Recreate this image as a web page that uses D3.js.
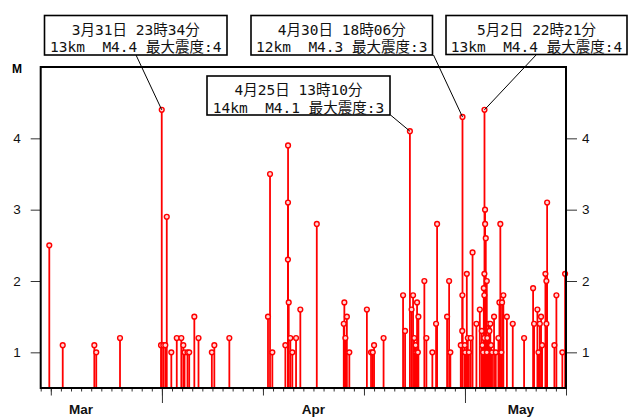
<!DOCTYPE html>
<html>
<head>
<meta charset="utf-8">
<script src="https://cdn.jsdelivr.net/npm/d3@7"></script>
<style>
  body { margin: 0; background: #fff; }
  .tick line { stroke: #333; }
  .ylab { font-family: "Liberation Sans", Arial, sans-serif; font-size: 13.5px; fill: #111; }
  .note { font-family: "DejaVu Sans Mono", "Noto Sans CJK JP", monospace; font-size: 14.5px; fill: #111; }
</style>
</head>
<body>
<div class="visualization"></div>
<script>
const canvaswidth = 628;
const canvasheight = 417;

// event times (JST) and magnitudes
var eqTimes = [
  "2023-03-20 20:25", "2023-03-22 04:20", "2023-03-25 07:25", "2023-03-25 12:00", "2023-03-27 20:25",
  "2023-03-31 21:50", "2023-03-31 23:34", "2023-04-01 03:20", "2023-04-01 08:00", "2023-04-01 11:30",
  "2023-04-01 22:20", "2023-04-02 11:15", "2023-04-02 22:05", "2023-04-03 02:50", "2023-04-03 05:45",
  "2023-04-03 12:45", "2023-04-03 16:50", "2023-04-04 05:00", "2023-04-04 14:55", "2023-04-05 22:35",
  "2023-04-06 04:30", "2023-04-07 16:10", "2023-04-11 12:00", "2023-04-11 16:50", "2023-04-11 22:20",
  "2023-04-13 05:15", "2023-04-13 11:40", "2023-04-13 11:30", "2023-04-13 11:20", "2023-04-13 13:15",
  "2023-04-13 17:05", "2023-04-13 21:50", "2023-04-14 06:40", "2023-04-14 16:50", "2023-04-16 07:55",
  "2023-04-19 00:00", "2023-04-19 01:25", "2023-04-19 03:50", "2023-04-19 07:25", "2023-04-19 13:15",
  "2023-04-21 06:55", "2023-04-21 16:50", "2023-04-21 20:55", "2023-04-22 00:00", "2023-04-22 22:35",
  "2023-04-24 20:55", "2023-04-25 01:40", "2023-04-25 13:10", "2023-04-25 17:05", "2023-04-25 20:40",
  "2023-04-25 23:30", "2023-04-26 02:40", "2023-04-26 04:30", "2023-04-26 06:10", "2023-04-26 08:05",
  "2023-04-26 09:20", "2023-04-26 23:30", "2023-04-27 04:20", "2023-04-27 18:30", "2023-04-28 03:20",
  "2023-04-28 05:45", "2023-04-29 05:30", "2023-04-29 10:20", "2023-04-29 13:15", "2023-04-30 14:00",
  "2023-04-30 17:50", "2023-04-30 17:30", "2023-04-30 18:06", "2023-04-30 23:35", "2023-05-01 00:15",
  "2023-05-01 04:20", "2023-05-01 06:45", "2023-05-01 09:20", "2023-05-01 13:40", "2023-05-01 18:00",
  "2023-05-02 03:10", "2023-05-02 11:15", "2023-05-02 15:50", "2023-05-02 17:15", "2023-05-02 19:00",
  "2023-05-02 20:40", "2023-05-02 22:05", "2023-05-02 22:00", "2023-05-02 21:50", "2023-05-02 22:21",
  "2023-05-02 23:50", "2023-05-02 23:40", "2023-05-03 01:25", "2023-05-03 03:50", "2023-05-03 03:55",
  "2023-05-03 05:00", "2023-05-03 08:40", "2023-05-03 10:05", "2023-05-03 12:15", "2023-05-03 13:55",
  "2023-05-03 16:20", "2023-05-03 21:05", "2023-05-04 01:10", "2023-05-04 07:25", "2023-05-04 09:50",
  "2023-05-04 12:00", "2023-05-04 14:25", "2023-05-04 16:05", "2023-05-04 19:10", "2023-05-05 03:35",
  "2023-05-05 17:30", "2023-05-06 20:25", "2023-05-07 17:50", "2023-05-07 20:10", "2023-05-08 04:05",
  "2023-05-08 06:30", "2023-05-08 09:50", "2023-05-08 12:45", "2023-05-08 15:10", "2023-05-08 23:05",
  "2023-05-09 01:25", "2023-05-09 01:30", "2023-05-09 03:10", "2023-05-09 20:25", "2023-05-10 01:10",
  "2023-05-10 15:20", "2023-05-10 21:50"
];
var eqMags = [
  2.5, 1.1, 1.1, 1.0, 1.2,
  1.1, 4.4, 1.1, 1.1, 2.9,
  1.0, 1.2, 1.2, 1.1, 1.0,
  1.0, 1.0, 1.5, 1.2, 1.0,
  1.1, 1.2, 1.5, 3.5, 1.0,
  1.1, 3.9, 3.1, 2.3, 1.7,
  1.2, 1.0, 1.2, 1.6, 2.8,
  1.4, 1.7, 1.2, 1.5, 1.0,
  1.6, 1.0, 1.0, 1.1, 1.2,
  1.8, 1.3, 4.1, 1.6, 1.8,
  1.2, 1.1, 1.0, 1.7, 1.0,
  1.5, 2.0, 1.2, 1.0, 1.4,
  2.8, 1.5, 2.0, 1.0, 1.1,
  1.8, 1.3, 4.3, 1.1, 1.0,
  2.1, 1.2, 1.0, 1.2, 2.4,
  1.4, 1.6, 1.3, 1.1, 1.0,
  1.9, 2.1, 1.8, 1.2, 4.4,
  2.8, 3.0, 2.6, 2.0, 1.0,
  1.2, 1.4, 1.3, 1.4, 1.1,
  1.0, 1.5, 1.0, 1.2, 1.7,
  2.8, 1.0, 1.7, 1.8, 1.5,
  1.4, 1.2, 1.9, 1.4, 1.6,
  1.0, 1.4, 1.5, 1.1, 2.1,
  2.0, 1.4, 3.1, 1.1, 1.8,
  1.0, 2.1
];

var yTicks = [1, 2, 3, 4];
var monthLabels = ["Mar", "Apr", "May"];
var monthLabelTimes = ["2023-03-24 00:00", "2023-04-16 00:00", "2023-05-06 13:00"];

// annotated events
var noteTimes = ["2023-03-31 23:34", "2023-04-30 18:06", "2023-05-02 22:21", "2023-04-25 13:10"];
var noteMags = [4.4, 4.3, 4.4, 4.1];
var noteTitles = ["3月31日 23時34分", "4月30日 18時06分", "5月2日 22時21分", "4月25日 13時10分"];
var noteDetails = ["13km  M4.4 最大震度:4", "12km  M4.3 最大震度:3", "13km  M4.4 最大震度:4", "14km  M4.1 最大震度:3"];

// box layout: [left, top, right, bottom, leader start x, leader start y]
var noteBoxes = [
  [44.5, 15.5, 227, 55, 136, 55],
  [251, 15.5, 432.5, 55, 433.5, 55],
  [446, 15.5, 627, 54.5, 536.5, 54.5],
  [207, 76, 390, 115, 390.5, 115]
];

var parseTime = d3.timeParse("%Y-%m-%d %H:%M");

var svgCanvas = d3.select(".visualization").
append("svg").
attr("width", canvaswidth).
attr("height", canvasheight);

var xscale = d3.scaleTime().
domain([parseTime("2023-03-20 00:00"), parseTime("2023-05-11 00:00")]).
range([40.7, 566]);

var yscale = d3.scaleLinear().domain([0.5, 5]).range([388, 67]);

var events = eqTimes.map((t, i) => ({ t: parseTime(t), m: eqMags[i] }));

// x axis: daily minor ticks, 1/11/21 medium, month starts long
var dayTicks = d3.timeDay.range(xscale.domain()[0], d3.timeDay.offset(xscale.domain()[1], 1));
var tenTicks = dayTicks.filter(d => [1, 11, 21].includes(d.getDate()));
var monthTicks = dayTicks.filter(d => d.getDate() == 1);

[[dayTicks, 3.5], [tenTicks, 7.5], [monthTicks, 15]].forEach(function (p) {
  var g = svgCanvas.append("g").
  attr("transform", "translate(0," + 388 + ")").
  call(d3.axisBottom(xscale).tickValues(p[0]).tickSize(p[1]).tickFormat(""));
  g.select(".domain").remove();
  g.selectAll(".tick line").attr("stroke", "#222").attr("stroke-width", 1);
});

svgCanvas.selectAll(".monthLabel").
data(monthLabels).
enter().
append("text").
attr("class", "ylab").
attr("x", (d, i) => xscale(parseTime(monthLabelTimes[i]))).
attr("y", 414).
attr("text-anchor", "middle").
attr("font-weight", 600).
text(d => d);

// y axes on both sides
var yleft = svgCanvas.append("g").
attr("transform", "translate(40.7,0)").
call(d3.axisLeft(yscale).tickValues(yTicks).tickSize(10).tickPadding(10).tickFormat(d3.format("d")));
var yright = svgCanvas.append("g").
attr("transform", "translate(566,0)").
call(d3.axisRight(yscale).tickValues(yTicks).tickSize(11).tickPadding(5).tickFormat(d3.format("d")));
[yleft, yright].forEach(function (g) {
  g.select(".domain").remove();
  g.selectAll(".tick line").attr("stroke", "#333");
  g.selectAll(".tick text").attr("class", "ylab").attr("font-size", null).attr("font-family", null);
});

svgCanvas.append("text").
attr("x", 17).
attr("y", 73).
attr("text-anchor", "middle").
attr("font-family", "Liberation Sans, Arial, sans-serif").
attr("font-weight", "bold").
attr("font-size", 12).
text("M");

// stems then markers
svgCanvas.append("g").
selectAll("line").
data(events).
enter().
append("line").
attr("x1", d => xscale(d.t)).
attr("x2", d => xscale(d.t)).
attr("y1", yscale(0.5)).
attr("y2", d => yscale(d.m)).
attr("stroke", "#ff0000").
attr("stroke-width", 1.8);

svgCanvas.append("g").
selectAll("circle").
data(events).
enter().
append("circle").
attr("cx", d => xscale(d.t)).
attr("cy", d => yscale(d.m)).
attr("r", 2.4).
attr("fill", "#ffd6d6").
attr("stroke", "#ff0000").
attr("stroke-width", 1.4);

// frame
svgCanvas.append("rect").
attr("x", 40.7).
attr("y", 67).
attr("width", 566 - 40.7).
attr("height", 388 - 67).
attr("fill", "none").
attr("stroke", "#000").
attr("stroke-width", 2);

// callouts
noteBoxes.forEach(function (b, i) {
  svgCanvas.append("line").
  attr("x1", b[4]).
  attr("y1", b[5]).
  attr("x2", xscale(parseTime(noteTimes[i]))).
  attr("y2", yscale(noteMags[i])).
  attr("stroke", "#000").
  attr("stroke-width", 1);

  svgCanvas.append("rect").
  attr("x", b[0]).
  attr("y", b[1]).
  attr("width", b[2] - b[0]).
  attr("height", b[3] - b[1]).
  attr("fill", "#fff").
  attr("stroke", "#000").
  attr("stroke-width", 1.6);

  var cx = (b[0] + b[2]) / 2;
  svgCanvas.append("text").
  attr("class", "note").
  attr("x", cx).
  attr("y", b[1] + 19).
  attr("text-anchor", "middle").
  style("white-space", "pre").
  text(noteTitles[i]);
  svgCanvas.append("text").
  attr("class", "note").
  attr("x", cx).
  attr("y", b[1] + 36.5).
  attr("text-anchor", "middle").
  style("white-space", "pre").
  text(noteDetails[i]);
});
</script>
</body>
</html>
